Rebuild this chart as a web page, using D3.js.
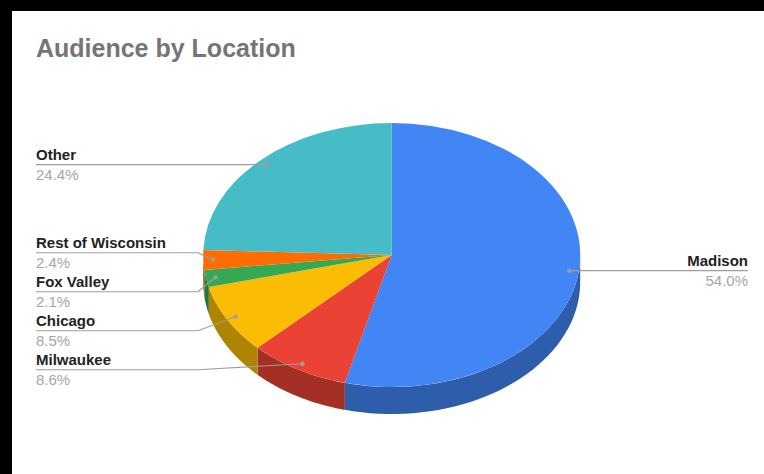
<!DOCTYPE html>
<html>
<head>
<meta charset="utf-8">
<script src="https://cdn.jsdelivr.net/npm/d3@7"></script>
<style>
  body { margin: 0; background: #000; }
  svg { display: block; font-family: "Liberation Sans", Arial, sans-serif; }
</style>
</head>
<body>
<div id="chart"></div>
<script>
var categories = ["Madison", "Milwaukee", "Chicago", "Fox Valley", "Rest of Wisconsin", "Other"];
var shares = [54.0, 8.6, 8.5, 2.1, 2.4, 24.4];
var shareLabels = ["54.0%", "8.6%", "8.5%", "2.1%", "2.4%", "24.4%"];
var colors = ["#4285f4", "#ea4335", "#fbbc04", "#34a853", "#ff6d01", "#46bdc6"];

var svgWidth = 764;
var svgHeight = 474;

// pie geometry (tilted ellipse with a thin wall)
var cx = 391.7, cy = 255, rx = 188.5, ry = 132, depth = 27;
var dotFrac = 0.95;

var svg = d3.select("#chart")
  .append("svg")
  .attr("width", svgWidth)
  .attr("height", svgHeight);

// white card with the black frame at top/left
svg.append("rect")
  .attr("x", 12).attr("y", 11)
  .attr("width", svgWidth - 12).attr("height", svgHeight - 11)
  .attr("fill", "#fff");

svg.append("text")
  .attr("x", 36).attr("y", 57)
  .attr("font-size", "25px")
  .attr("font-weight", "bold")
  .attr("fill", "#757575")
  .text("Audience by Location");

var data = categories.map(function(c, i) {
  return { name: c, value: shares[i], label: shareLabels[i], color: colors[i] };
});

var pie = d3.pie().sort(null).value(d => d.value);
var arcs = pie(data);

function px(a, r) { return cx + r * rx * Math.sin(a); }
function py(a, r) { return cy - r * ry * Math.cos(a); }

// side walls, only the front half (90deg..270deg) is visible
var line = d3.line();
var wall = svg.append("g");
arcs.forEach(function(d) {
  var a0 = Math.max(d.startAngle, Math.PI / 2);
  var a1 = Math.min(d.endAngle, Math.PI * 1.5);
  if (a1 <= a0) return;
  var n = 40, top = [], bottom = [];
  for (var k = 0; k <= n; k++) {
    var a = a0 + (a1 - a0) * k / n;
    top.push([px(a, 1), py(a, 1)]);
    bottom.unshift([px(a, 1), py(a, 1) + depth]);
  }
  wall.append("path")
    .attr("d", line(top.concat(bottom)) + "Z")
    .attr("fill", d3.color(d.data.color).darker(1));
});

// top face
var arc = d3.arc().innerRadius(0).outerRadius(rx);
svg.append("g")
  .attr("transform", `translate(${cx}, ${cy}) scale(1, ${ry / rx})`)
  .selectAll("path")
  .data(arcs)
  .enter()
  .append("path")
  .attr("d", arc)
  .attr("fill", d => d.data.color);

// label layout
var spacing = 39, lift = 7, elbowX = 198, leftX = 36, rightX = 748;
arcs.forEach(function(d) {
  var m = (d.startAngle + d.endAngle) / 2;
  d.dotX = px(m, dotFrac);
  d.dotY = py(m, dotFrac);
  d.left = m > Math.PI;
});

["left", "right"].forEach(function(side) {
  var list = arcs.filter(d => (side == "left") == d.left)
    .sort((a, b) => a.dotY - b.dotY);
  var prev = -Infinity;
  list.forEach(function(d, i) {
    var next = list[i + 1];
    var up = (next && next.dotY - d.dotY < spacing) ? lift : 0;
    d.lineY = Math.max(d.dotY - up, prev + spacing);
    prev = d.lineY;
  });
});

var labels = svg.append("g");
arcs.forEach(function(d) {
  var endX = d.left ? leftX : rightX;
  var pts = [[d.dotX, d.dotY]];
  if (d.left && Math.abs(d.lineY - d.dotY) > 1) pts.push([elbowX, d.lineY]);
  pts.push([endX, d.lineY]);

  labels.append("path")
    .attr("d", line(pts))
    .attr("fill", "none")
    .attr("stroke", "#9e9e9e")
    .attr("stroke-width", 1.2);

  labels.append("circle")
    .attr("cx", d.dotX).attr("cy", d.dotY)
    .attr("r", 2.2)
    .attr("fill", "#9e9e9e");

  labels.append("text")
    .attr("x", endX).attr("y", d.lineY - 5)
    .attr("text-anchor", d.left ? "start" : "end")
    .attr("font-size", "15px")
    .attr("font-weight", "bold")
    .attr("fill", "#222")
    .text(d.data.name);

  labels.append("text")
    .attr("x", endX).attr("y", d.lineY + 15.5)
    .attr("text-anchor", d.left ? "start" : "end")
    .attr("font-size", "15px")
    .attr("fill", "#a6a6a6")
    .text(d.data.label);
});
</script>
</body>
</html>
